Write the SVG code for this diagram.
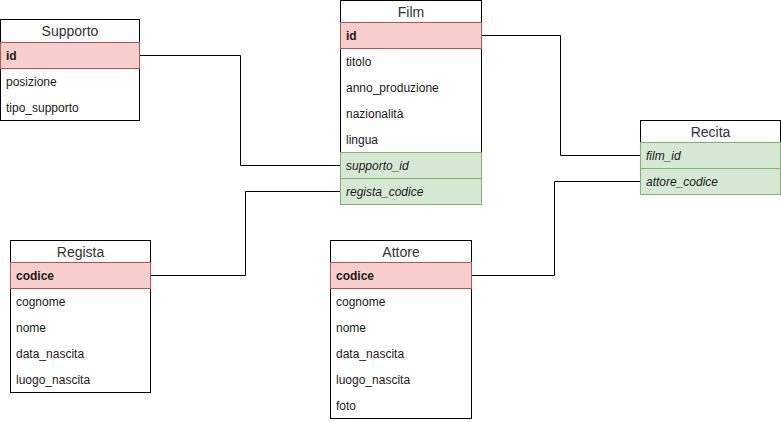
<svg xmlns="http://www.w3.org/2000/svg" width="781" height="422" viewBox="0 0 781 422">
  <style>
    .box { fill: #ffffff; stroke: #000000; stroke-width: 1; }
    .pk { fill: #f8cecc; stroke: #b85450; stroke-width: 1; }
    .fk { fill: #d5e8d4; stroke: #82b366; stroke-width: 1; }
    .title { font-family: "Liberation Sans", Arial, sans-serif; font-size: 14px; fill: #333333; text-anchor: middle; }
    .field { font-family: "Liberation Sans", Arial, sans-serif; font-size: 12px; fill: #1a1a1a; }
    .key { font-weight: bold; }
    .ref { font-style: italic; }
    .link { fill: none; stroke: #000000; stroke-width: 1; }
  </style>

  <!-- relations -->
  <g id="connectors">
    <polyline class="link" points="139.5,55.5 240.5,55.5 240.5,165.5 340.5,165.5"/>
    <polyline class="link" points="340.5,191.5 245.5,191.5 245.5,275.5 150.5,275.5"/>
    <polyline class="link" points="481.5,35.5 560.5,35.5 560.5,155.5 640.5,155.5"/>
    <polyline class="link" points="640.5,181.5 554.5,181.5 554.5,275.5 471.5,275.5"/>
  </g>

  <!-- Supporto -->
  <g id="supporto">
    <rect class="box" x="0.5" y="19.5" width="139" height="101"/>
    <text class="title" x="70" y="36">Supporto</text>
    <rect class="pk" x="0.5" y="42.5" width="139" height="26"/>
    <text class="field key" x="6" y="60">id</text>
    <text class="field" x="6" y="86">posizione</text>
    <text class="field" x="6" y="112">tipo_supporto</text>
  </g>

  <!-- Film -->
  <g id="film">
    <rect class="box" x="340.5" y="0.5" width="141" height="204"/>
    <text class="title" x="411" y="17">Film</text>
    <rect class="pk" x="340.5" y="22.5" width="141" height="26"/>
    <text class="field key" x="346" y="40">id</text>
    <text class="field" x="346" y="66">titolo</text>
    <text class="field" x="346" y="92">anno_produzione</text>
    <text class="field" x="346" y="118">nazionalità</text>
    <text class="field" x="346" y="144">lingua</text>
    <rect class="fk" x="340.5" y="152.5" width="141" height="26"/>
    <text class="field ref" x="346" y="170">supporto_id</text>
    <rect class="fk" x="340.5" y="178.5" width="141" height="26"/>
    <text class="field ref" x="346" y="196">regista_codice</text>
  </g>

  <!-- Recita -->
  <g id="recita">
    <rect class="box" x="640.5" y="120.5" width="140" height="73"/>
    <text class="title" x="710.5" y="137">Recita</text>
    <rect class="fk" x="640.5" y="142.5" width="140" height="26"/>
    <text class="field ref" x="646" y="160">film_id</text>
    <rect class="fk" x="640.5" y="168.5" width="140" height="26"/>
    <text class="field ref" x="646" y="186">attore_codice</text>
  </g>

  <!-- Regista -->
  <g id="regista">
    <rect class="box" x="10.5" y="240.5" width="140" height="152"/>
    <text class="title" x="80.5" y="257">Regista</text>
    <rect class="pk" x="10.5" y="262.5" width="140" height="26"/>
    <text class="field key" x="16" y="280">codice</text>
    <text class="field" x="16" y="306">cognome</text>
    <text class="field" x="16" y="332">nome</text>
    <text class="field" x="16" y="358">data_nascita</text>
    <text class="field" x="16" y="384">luogo_nascita</text>
  </g>

  <!-- Attore -->
  <g id="attore">
    <rect class="box" x="330.5" y="240.5" width="141" height="178"/>
    <text class="title" x="401" y="257">Attore</text>
    <rect class="pk" x="330.5" y="262.5" width="141" height="26"/>
    <text class="field key" x="336" y="280">codice</text>
    <text class="field" x="336" y="306">cognome</text>
    <text class="field" x="336" y="332">nome</text>
    <text class="field" x="336" y="358">data_nascita</text>
    <text class="field" x="336" y="384">luogo_nascita</text>
    <text class="field" x="336" y="410">foto</text>
  </g>
</svg>
